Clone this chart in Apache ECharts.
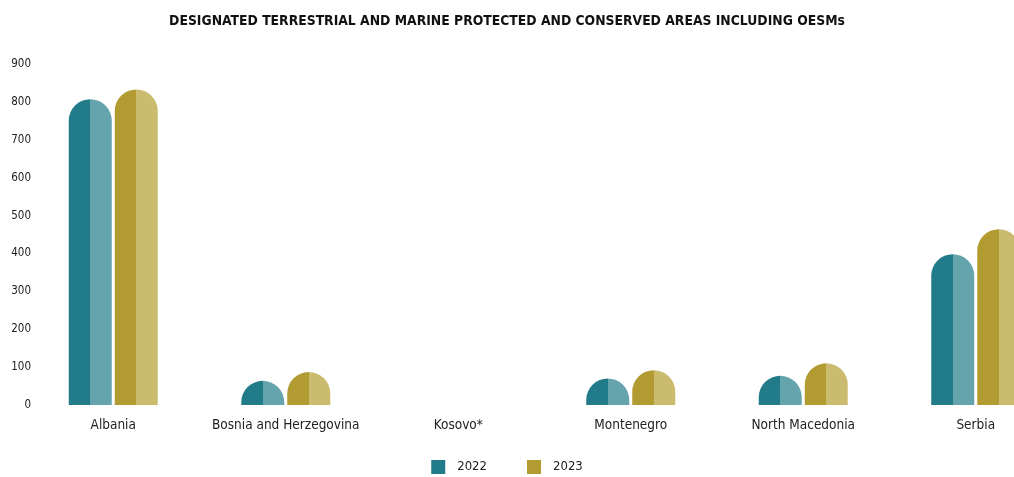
<!DOCTYPE html>
<html><head><meta charset="utf-8">
<script src="https://cdn.jsdelivr.net/npm/echarts@6/dist/echarts.min.js"></script>
<style>html,body{margin:0;padding:0;background:#fff}#c{width:1014px;height:477px}</style>
</head><body><div id="c"></div>
<script>
const titleText = 'DESIGNATED TERRESTRIAL AND MARINE PROTECTED AND CONSERVED AREAS INCLUDING OESMs';
const categories = ['Albania', 'Bosnia and Herzegovina', 'Kosovo*', 'Montenegro', 'North Macedonia', 'Serbia'];
const seriesNames = ['2022', '2023'];
const values2022 = [807, 64, 0, 70, 77, 398];
const values2023 = [833, 87, 0, 92, 110, 464];
const yTicks = [0, 100, 200, 300, 400, 500, 600, 700, 800, 900];

const FONT = '"Liberation Sans Narrow", "DejaVu Sans Condensed", "Roboto", sans-serif';
function split(dark, light) {
  return {type: 'linear', x: 0, y: 0, x2: 1, y2: 0, colorStops: [
    {offset: 0, color: dark}, {offset: 0.5, color: dark},
    {offset: 0.5, color: light}, {offset: 1, color: light}]};
}
const chart = echarts.init(document.getElementById('c'));
chart.setOption({
  animation: false,
  title: {text: titleText, left: 'center', top: 9,
    textStyle: {fontFamily: FONT, fontSize: 13.8, fontWeight: 'bold', color: '#111'}},
  legend: {top: 455, left: 'center', itemWidth: 14, itemHeight: 14, itemGap: 40, icon: 'rect',
    textStyle: {fontFamily: FONT, fontSize: 13, color: '#222', padding: [0, 0, 0, 7]},
    data: [{name: '2022', itemStyle: {color: '#227b89'}}, {name: '2023', itemStyle: {color: '#b29b30'}}]},
  grid: {left: 27, width: 1035, top: 64, bottom: 72, containLabel: false, outerBoundsMode: 'none'},
  xAxis: {type: 'category', data: categories,
    axisLine: {show: false}, axisTick: {show: false},
    axisLabel: {fontFamily: FONT, fontSize: 13.5, color: '#222', margin: 13, interval: 0}},
  yAxis: {type: 'value', min: yTicks[0], max: yTicks[yTicks.length - 1], interval: 100, offset: -4,
    splitLine: {show: false}, axisLine: {show: false}, axisTick: {show: false},
    axisLabel: {fontFamily: FONT, fontSize: 11.5, color: '#222', margin: 0}},
  series: [
    {name: seriesNames[0], type: 'bar', data: values2022, barWidth: 43, barGap: '7%',
      itemStyle: {color: split('#227b89', '#65a3ad'), borderRadius: [22, 22, 0, 0]}},
    {name: seriesNames[1], type: 'bar', data: values2023, barWidth: 43, barGap: '7%',
      itemStyle: {color: split('#b29b30', '#cbbb6e'), borderRadius: [22, 22, 0, 0]}}
  ]
});
</script></body></html>
